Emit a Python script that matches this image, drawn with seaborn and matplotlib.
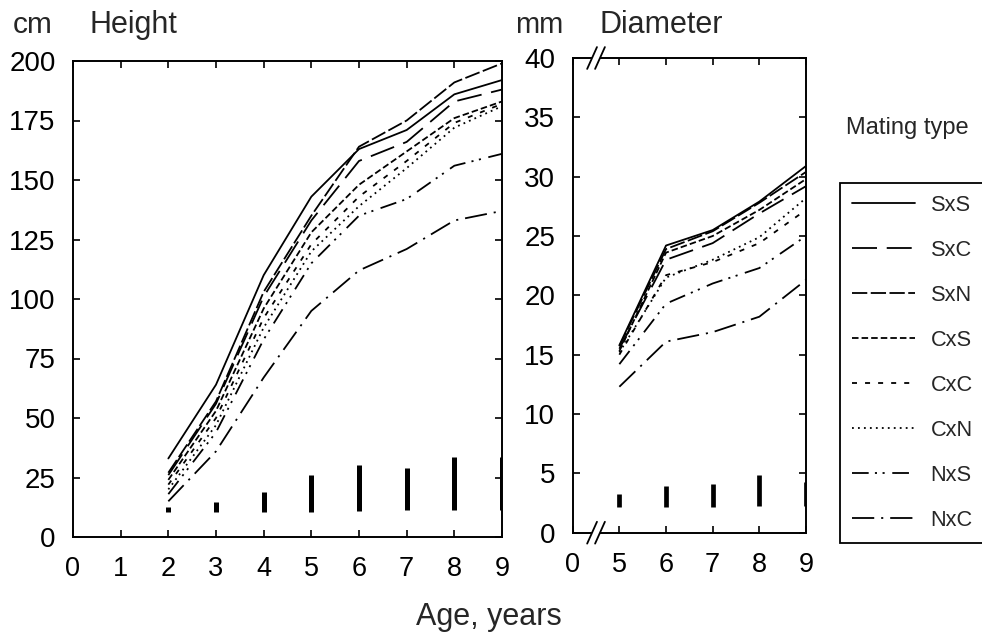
import numpy as np
import pandas as pd
import matplotlib.pyplot as plt
import seaborn as sns
from matplotlib.lines import Line2D
from matplotlib.patches import Rectangle

# mating types (legend order)
mating_types = ["SxS", "SxC", "SxN", "CxS", "CxC", "CxN", "NxS", "NxC"]

# height, cm (ages 2-9)
ages_height = [2, 3, 4, 5, 6, 7, 8, 9]
height_SxS = [33, 64, 110, 143, 163, 171, 186, 192]
height_SxC = [26, 56, 101, 133, 158, 166, 183, 188]
height_SxN = [27, 57, 103, 135, 164, 175, 191, 199]
height_CxS = [24, 53, 96, 128, 148, 162, 176, 183]
height_CxC = [22, 50, 92, 123, 143, 158, 174, 182]
height_CxN = [20, 47, 88, 120, 139, 155, 172, 181]
height_NxS = [18, 44, 83, 115, 135, 142, 156, 161]
height_NxC = [15, 36, 67, 95, 112, 121, 133, 137]

# diameter, mm (ages 5-9)
ages_diam = [5, 6, 7, 8, 9]
diam_SxS = [15.8, 24.2, 25.5, 27.9, 30.9]
diam_SxC = [15.5, 23.0, 24.4, 26.9, 29.2]
diam_SxN = [15.7, 23.9, 25.4, 27.8, 30.4]
diam_CxS = [15.3, 23.6, 25.0, 27.2, 29.8]
diam_CxC = [15.0, 21.7, 22.8, 24.4, 27.2]
diam_CxN = [15.2, 21.5, 23.0, 24.9, 28.2]
diam_NxS = [14.2, 19.3, 21.0, 22.3, 25.0]
diam_NxC = [12.3, 16.1, 16.9, 18.2, 21.3]

# vertical bars at the bottom of each panel
height_bar_low = [10.3, 10.5, 10.6, 10.6, 10.9, 11.3, 11.3, 11.3]
height_bar_high = [12.7, 14.6, 19.0, 26.0, 30.3, 28.9, 33.5, 33.5]
diam_bar_low = [2.2, 2.2, 2.2, 2.25, 2.25]
diam_bar_high = [3.3, 3.9, 4.1, 4.9, 4.3]

height_vals = [height_SxS, height_SxC, height_SxN, height_CxS,
               height_CxC, height_CxN, height_NxS, height_NxC]
diam_vals = [diam_SxS, diam_SxC, diam_SxN, diam_CxS,
             diam_CxC, diam_CxN, diam_NxS, diam_NxC]

df_h = pd.DataFrame([(t, a, v) for t, vals in zip(mating_types, height_vals)
                     for a, v in zip(ages_height, vals)],
                    columns=["type", "age", "value"])
df_d = pd.DataFrame([(t, a, v) for t, vals in zip(mating_types, diam_vals)
                     for a, v in zip(ages_diam, vals)],
                    columns=["type", "age", "value"])

# dash patterns in points
dash_styles = {
    "SxS": "",
    "SxC": (18, 7),
    "SxN": (11, 2.5),
    "CxS": (4.7, 2.2),
    "CxC": (3.6, 5.8),
    "CxN": (1.3, 3),
    "NxS": (12, 4.5, 1.5, 4, 1.5, 5.5),
    "NxC": (16, 5, 1.5, 5),
}

sns.set_style("ticks")
plt.rcParams["font.family"] = ["Liberation Sans", "DejaVu Sans"]
plt.rcParams["lines.scale_dashes"] = False
plt.rcParams["axes.linewidth"] = 1.4

fig = plt.figure(figsize=(9.82, 6.35), dpi=100)
ax1 = fig.add_axes([73 / 982, 1 - 537 / 635, 429 / 982, 476 / 635])
ax2 = fig.add_axes([572.7 / 982, 1 - 532.7 / 635, 233.3 / 982, 474.7 / 635])

lw = 1.3
sns.lineplot(data=df_h, x="age", y="value", style="type", dashes=dash_styles,
             color="black", linewidth=lw, errorbar=None, legend=False, ax=ax1)
sns.lineplot(data=df_d, x="age", y="value", style="type", dashes=dash_styles,
             color="black", linewidth=lw, errorbar=None, legend=False, ax=ax2)

ax1.vlines(ages_height, height_bar_low, height_bar_high, color="black", lw=3.6)
ax2.vlines(ages_diam, diam_bar_low, diam_bar_high, color="black", lw=3.4)

ax1.set_xlim(0, 9)
ax1.set_ylim(0, 200)
ax1.set_xticks(range(0, 10))
ax1.set_yticks(range(0, 201, 25))

ax2.set_xlim(4, 9)
ax2.set_ylim(0, 40)
ax2.set_xticks([4, 5, 6, 7, 8, 9])
ax2.set_xticklabels(["0", "5", "6", "7", "8", "9"])
ax2.set_yticks(range(0, 41, 5))

for ax in (ax1, ax2):
    ax.set_xlabel("")
    ax.set_ylabel("")
    for s in ax.spines.values():
        s.set_visible(True)
        s.set_color("black")
    ax.tick_params(direction="in", length=5, width=1.2, top=True, right=True,
                   colors="black")
    ax.tick_params(axis="y", labelsize=20, pad=12.5)
    ax.tick_params(axis="x", labelsize=19.5, pad=14)

# axis break marks on the diameter panel
for yb in (0, 1):
    ax2.add_patch(Rectangle((0.083, yb - 0.006), 0.034, 0.012,
                            transform=ax2.transAxes, facecolor="white",
                            edgecolor="none", clip_on=False, zorder=5))
    for xc in (0.083, 0.117):
        ax2.plot([xc - 0.021, xc + 0.021], [yb - 0.023, yb + 0.023],
                 transform=ax2.transAxes, color="black", lw=1.3,
                 clip_on=False, zorder=6)

# panel titles and units
fig.text(13 / 982, 1 - 33 / 635, "cm", fontsize=21.5, va="baseline")
fig.text(90 / 982, 1 - 33 / 635, "Height", fontsize=22, va="baseline")
fig.text(515 / 982, 1 - 33 / 635, "mm", fontsize=21, va="baseline")
fig.text(600 / 982, 1 - 33 / 635, "Diameter", fontsize=22, va="baseline")
fig.text(489 / 982, 1 - 625 / 635, "Age, years", fontsize=22,
         ha="center", va="baseline")

# legend
handles = [Line2D([0], [0], color="black", lw=lw, dashes=dash_styles[t])
           for t in mating_types]
fig.text(907 / 982, 1 - 134 / 635, "Mating type", fontsize=17,
         ha="center", va="baseline")
leg = fig.legend(handles, mating_types, loc="upper left",
                 bbox_to_anchor=(840 / 982, 1 - 183 / 635), fontsize=15.7,
                 handlelength=2.9, handletextpad=0.7, borderpad=0.55,
                 labelspacing=1.1, fancybox=False, framealpha=1,
                 edgecolor="black", borderaxespad=0)
leg.get_frame().set_linewidth(1.3)

fig.savefig("out.png", dpi=100)
